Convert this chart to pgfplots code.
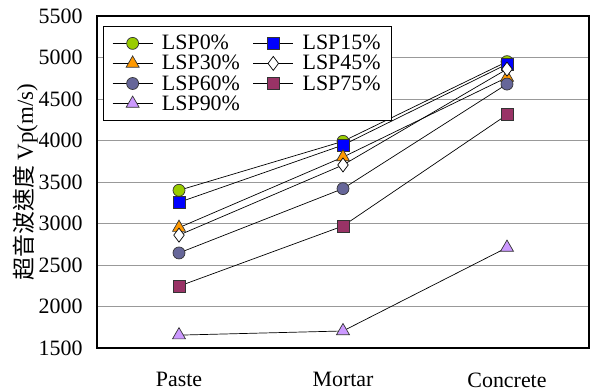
\documentclass[border=0pt]{standalone}
\usepackage{pgfplots}
\pgfplotsset{compat=1.18}
\usepackage{fontspec}
\setmainfont{Liberation Serif}
\newfontfamily\cjk{Noto Sans CJK TC}
\definecolor{c0}{HTML}{99CC00}
\definecolor{c15}{HTML}{0000FF}
\definecolor{c30}{HTML}{FF9900}
\definecolor{c60}{HTML}{666699}
\definecolor{c75}{HTML}{993366}
\definecolor{c90}{HTML}{CC99FF}
\begin{document}
\begin{tikzpicture}
\begin{axis}[
  scale only axis,
  width=492bp, height=332bp,
  xmin=-0.5, xmax=2.5, ymin=1500, ymax=5500,
  xtick={0,1,2}, xticklabels={Paste,Mortar,Concrete},
  major x tick style={draw=none},
  extra x ticks={0.5,1.5}, extra x tick labels={},
  extra x tick style={major tick length=5bp, tick style={black, line width=0.6pt}, grid=none},
  ytick={1500,2000,...,5500},
  ymajorgrids, grid style={gray!80, line width=0.7pt},
  major y tick style={draw=none},
  axis line style={black, line width=1.6pt},
  tick align=inside,
  /pgf/number format/assume math mode=true,
  /pgf/number format/1000 sep={},
  ticklabel style={font=\fontsize{22}{24}\selectfont},
  xticklabel style={yshift=-21bp},
  yticklabel style={xshift=-11bp},
  ylabel={{\cjk 超音波速度} Vp(m/s)},
  ylabel style={font=\fontsize{23}{24}\selectfont, yshift=-6bp},
  legend columns=2,
  legend style={at={(rel axis cs:0.012,0.97)}, anchor=north west, draw=black, line width=0.8pt,
    font=\fontsize{22}{20}\selectfont, row sep=0bp, inner xsep=9bp, inner ysep=7bp,
    /tikz/every odd column/.append style={column sep=7bp},
    /tikz/every even column/.append style={column sep=11bp}},
  legend cell align=left,
  legend image code/.code={\draw[mark repeat=2,mark phase=2] plot coordinates {(0bp,0bp) (20bp,0bp) (40bp,0bp)};},
  every axis plot/.append style={black, line width=0.7pt, mark options={solid, line width=0.6pt}},
]
\addplot[mark=*, mark size=6bp, mark options={fill=c0, draw=black!80}] coordinates {(0,3400) (1,3990) (2,4950)};
\addlegendentry{LSP0\%}
\addplot[mark=square*, mark size=6bp, mark options={fill=c15, draw=black!80}] coordinates {(0,3255) (1,3945) (2,4920)};
\addlegendentry{LSP15\%}
\addplot[mark=triangle*, mark size=7.5bp, mark options={fill=c30, draw=black!80}] coordinates {(0,2950) (1,3800) (2,4760)};
\addlegendentry{LSP30\%}
\addplot[mark=diamond*, mark size=7bp, mark options={fill=white, draw=black}] coordinates {(0,2860) (1,3705) (2,4860)};
\addlegendentry{LSP45\%}
\addplot[mark=*, mark size=6bp, mark options={fill=c60, draw=black!80}] coordinates {(0,2645) (1,3420) (2,4680)};
\addlegendentry{LSP60\%}
\addplot[mark=square*, mark size=6bp, mark options={fill=c75, draw=black!80}] coordinates {(0,2245) (1,2970) (2,4310)};
\addlegendentry{LSP75\%}
\addplot[mark=triangle*, mark size=7.5bp, mark options={fill=c90, draw=black!80}] coordinates {(0,1655) (1,1705) (2,2710)};
\addlegendentry{LSP90\%}
\end{axis}
\path ([xshift=-97bp,yshift=-41bp]current axis.south west) rectangle ([xshift=4bp,yshift=16bp]current axis.north east);
\end{tikzpicture}
\end{document}
